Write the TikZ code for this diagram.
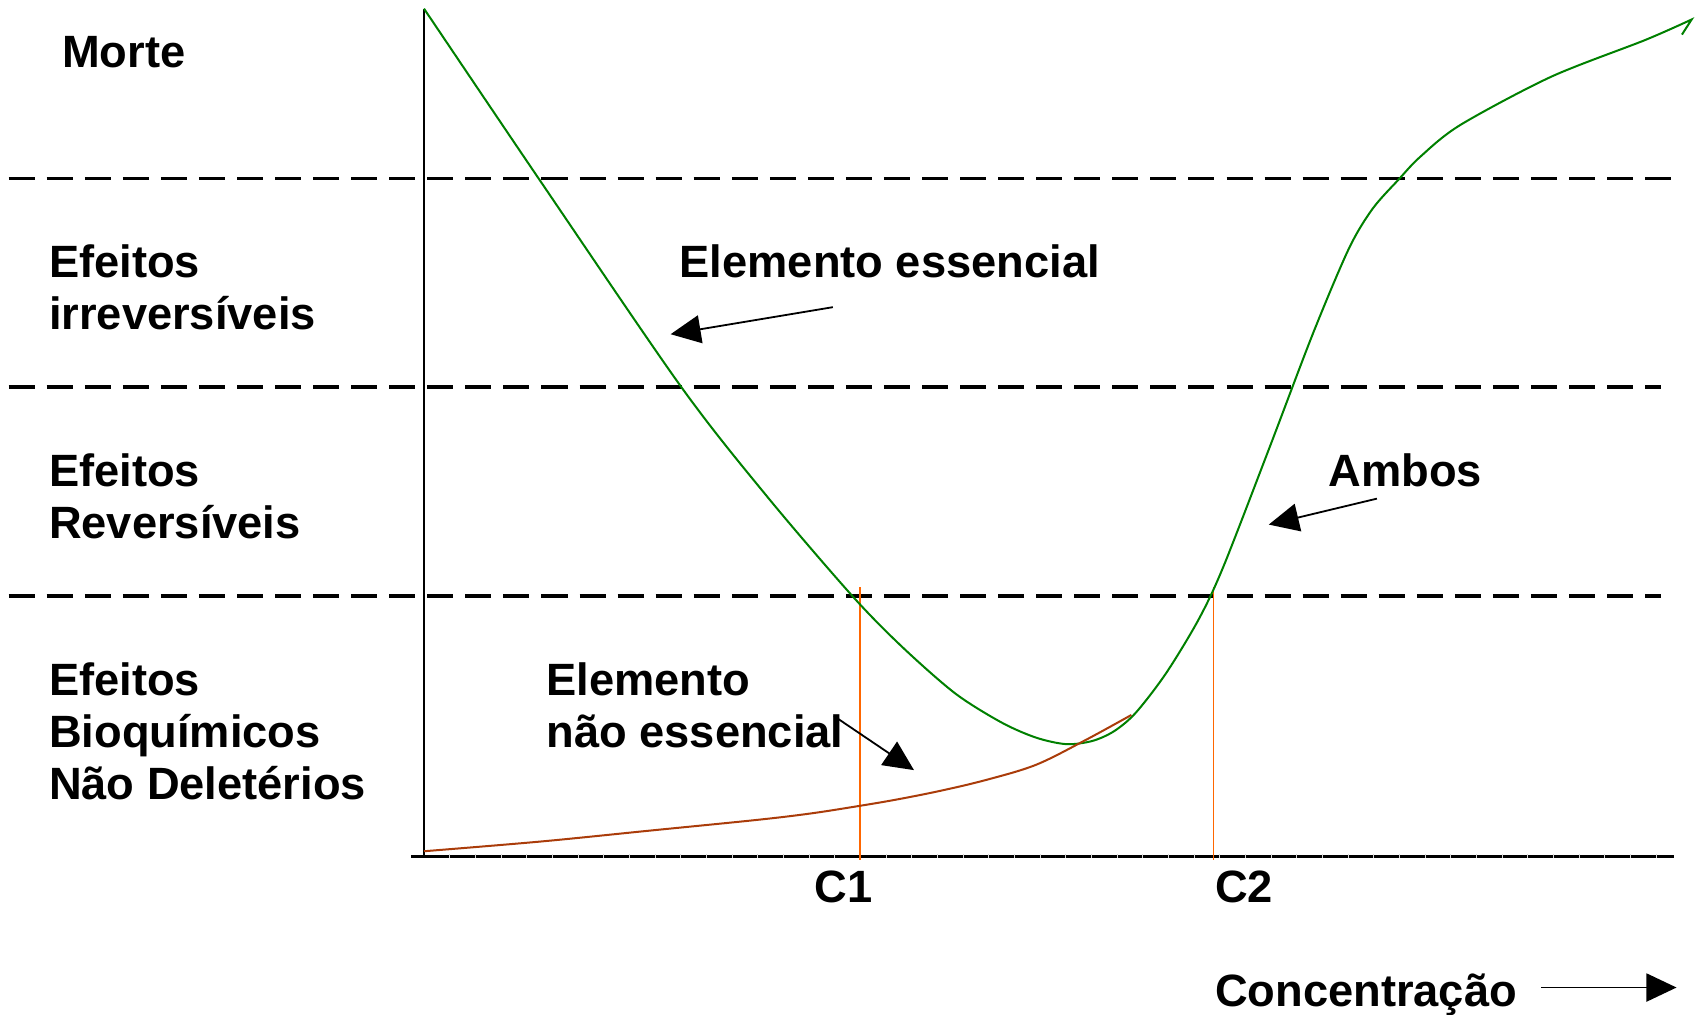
\documentclass[tikz,border=0pt]{standalone}
\usepackage{fontspec}
\setmainfont{Liberation Sans}
\usetikzlibrary{arrows.meta}
\definecolor{essgreen}{RGB}{0,128,0}
\definecolor{nonessbrown}{RGB}{170,60,10}
\definecolor{limitorange}{RGB}{255,102,0}

\begin{document}
\begin{tikzpicture}[x=0.54pt, y=-0.54pt]
    \useasboundingbox (0,0) rectangle (1568,937.5);
    \tikzset{Label/.style = {anchor=north west, inner sep=0pt, align=left,
        font=\fontsize{22.6}{26}\selectfont\bfseries}}
    \tikzset{Level/.style = {line width=1.9pt, dash pattern=on 13pt off 6pt}}
    \tikzset{Pointer/.style = {-{Triangle[length=15pt, width=14pt]}, line width=0.9pt}}

    % Levels
    \draw[Level] (8,165) -- (1548,165);
    \draw[Level] (8,358) -- (1536,358);
    \draw[Level] (8,551) -- (1536,551);

    % Axes
    \coordinate (origin) at (392,792);
    \coordinate (ytop) at (392,8);
    \coordinate (xleft) at (380,792);
    \coordinate (xright) at (1548,792);
    \draw[line width=0.9pt] (origin) -- (ytop);
    \draw[line width=1.7pt] (xleft) -- (xright);
    \foreach \k in {1,...,48}
        \draw[gray!30, line width=0.3pt] ({392+\k*23.73},790) -- ++(0,3.5);

    % Limits
    \coordinate (c1top) at (795,543);
    \coordinate (c1bot) at (795,795);
    \coordinate (c2top) at (1122,543);
    \coordinate (c2bot) at (1122,795);
    \draw[limitorange, line width=0.8pt] (c1top) -- (c1bot);
    \draw[limitorange, line width=0.8pt] (c2top) -- (c2bot);

    % Curves
    \draw[essgreen, line width=1pt] plot[smooth, tension=0.5] coordinates {
        (392,8) (500,168) (630,358) (710,460) (788,551) (834,598) (883,641)
        (926,668) (958,682) (986,688) (1010,685) (1030,676) (1050,659)
        (1078,622.5) (1108,573) (1131,524) (1174,413) (1214,308) (1247,230)
        (1269,193) (1293.5,165.5) (1313,145) (1350,115.6) (1434,71) (1521,37)
        (1564,18)} -- (1555,32);
    \draw[nonessbrown, line width=1pt] plot[smooth, tension=0.55] coordinates {
        (392,787) (500,778) (600,768) (700,758) (750,752) (795,745) (830,739)
        (870,731) (912,721) (958,707) (1004,684) (1046,661)};

    % Labels
    \node[Label] (morte) at (57,33) {Morte};
    \node[Label] (irrev) at (45,226) {Efeitos\\irreversíveis};
    \node[Label] (rev) at (45,419) {Efeitos\\Reversíveis};
    \node[Label] (bioq) at (45,612) {Efeitos\\Bioquímicos\\Não Deletérios};
    \node[Label] (essencial) at (628,226) {Elemento essencial};
    \node[Label] (ambos) at (1228,419) {Ambos};
    \node[Label] (naoessencial) at (505,612) {Elemento\\não essencial};
    \node[Label] (c1) at (753,805) {C1};
    \node[Label] (c2) at (1123,805) {C2};
    \node[Label] (conc) at (1123,900) {Concentração};

    % Arrows
    \coordinate (esstail) at (770,284);
    \coordinate (esshead) at (620,309);
    \coordinate (ambostail) at (1273,461);
    \coordinate (amboshead) at (1173,485);
    \coordinate (naotail) at (771,662);
    \coordinate (naohead) at (845,712);
    \coordinate (conctail) at (1425,913);
    \coordinate (conchead) at (1550,913);
    \draw[Pointer] (esstail) -- (esshead);
    \draw[Pointer] (ambostail) -- (amboshead);
    \draw[Pointer] (naotail) -- (naohead);
    \draw[Pointer] (conctail) -- (conchead);
\end{tikzpicture}
\end{document}
